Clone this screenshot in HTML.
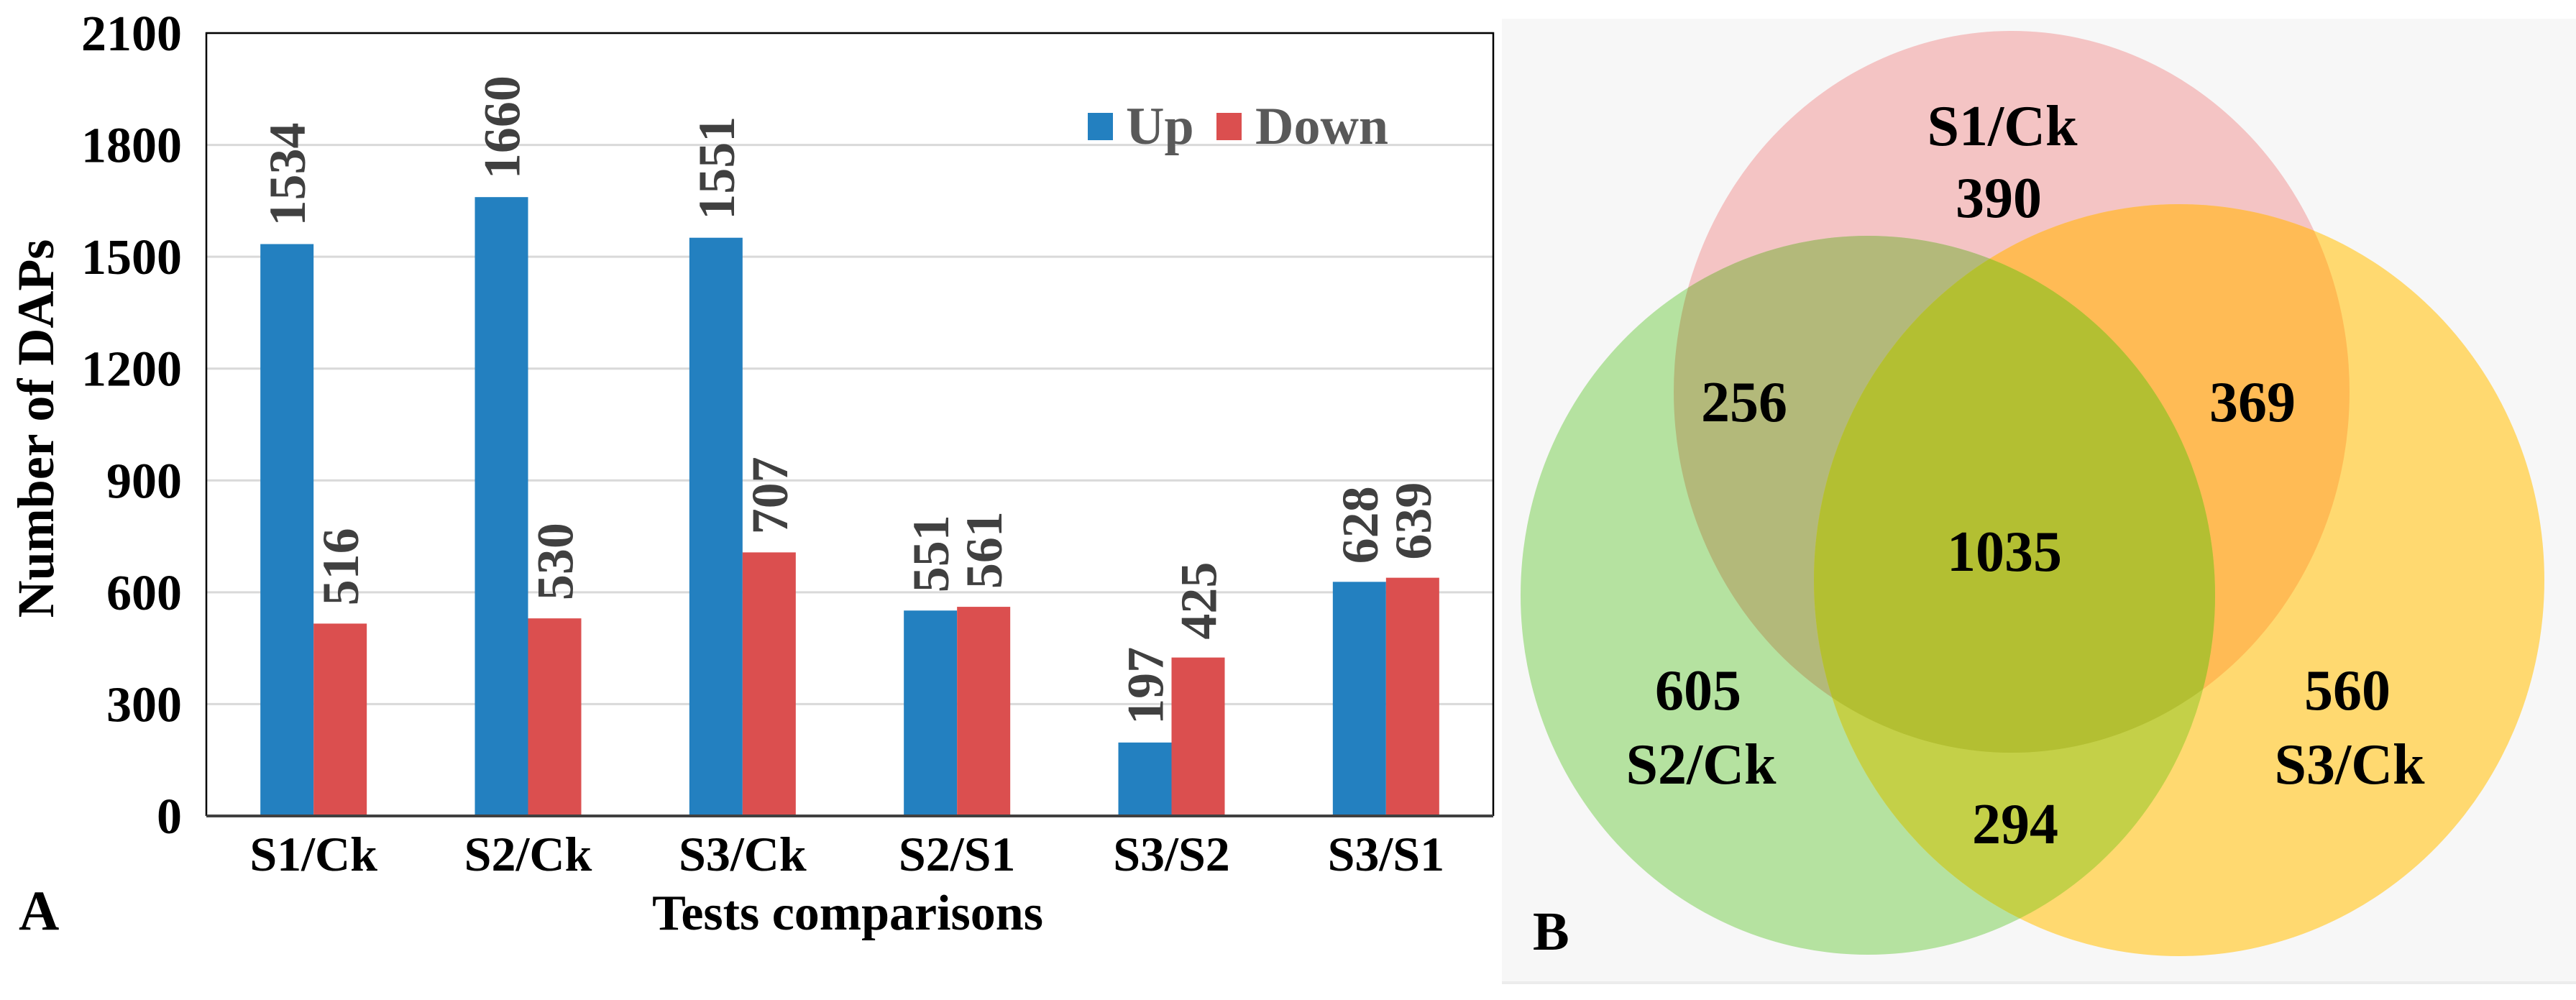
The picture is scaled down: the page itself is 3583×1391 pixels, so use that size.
<!DOCTYPE html>
<html><head><meta charset="utf-8"><style>
html,body{margin:0;padding:0;background:#fff}
svg{display:block}
text{font-family:"Liberation Serif",serif;font-weight:bold}
</style></head><body>
<svg id="chart" width="3583" height="1391" viewBox="0 0 3583 1391" xmlns="http://www.w3.org/2000/svg">
<g id="barPanel"></g>
<g id="vennPanel">
  <defs>
    <clipPath id="cPink"><ellipse cx="2798" cy="545" rx="470" ry="502"/></clipPath>
    <clipPath id="cGreen"><ellipse cx="2598" cy="828" rx="483" ry="500"/></clipPath>
    <clipPath id="cYellow"><ellipse cx="3031" cy="807" rx="508" ry="523"/></clipPath>
  </defs>
  <rect x="2089" y="26" width="1494" height="1339" fill="#f7f7f7"/>
  <rect x="2089" y="1365" width="1494" height="4" fill="#ececec"/>
  <ellipse cx="2798" cy="545" rx="470" ry="502" fill="#f4c4c4"/>
  <ellipse cx="2598" cy="828" rx="483" ry="500" fill="#b5e2a0"/>
  <ellipse cx="3031" cy="807" rx="508" ry="523" fill="#ffd970"/>
  <g clip-path="url(#cPink)"><ellipse cx="2598" cy="828" rx="483" ry="500" fill="#b3b97a"/></g>
  <g clip-path="url(#cPink)"><ellipse cx="3031" cy="807" rx="508" ry="523" fill="#ffbb55"/></g>
  <g clip-path="url(#cGreen)"><ellipse cx="3031" cy="807" rx="508" ry="523" fill="#c4d048"/></g>
  <g clip-path="url(#cPink)"><g clip-path="url(#cGreen)"><ellipse cx="3031" cy="807" rx="508" ry="523" fill="#b3bf32"/></g></g>
  <g font-size="80" text-anchor="middle" fill="#000">
    <text x="2785" y="202">S1/Ck</text>
    <text x="2780" y="302">390</text>
    <text x="2426" y="586">256</text>
    <text x="3133" y="586">369</text>
    <text x="2788" y="794">1035</text>
    <text x="2362" y="987">605</text>
    <text x="2366" y="1090">S2/Ck</text>
    <text x="3265" y="987">560</text>
    <text x="3268" y="1090">S3/Ck</text>
    <text x="2803" y="1173">294</text>
  </g>
  <text x="2132" y="1321" font-size="76">B</text>
</g>
</svg>
<script>
const categories = ["S1/Ck","S2/Ck","S3/Ck","S2/S1","S3/S2","S3/S1"];
const upValues = [1534,1660,1551,551,197,628];
const downValues = [516,530,707,561,425,639];
const yTicks = [0,300,600,900,1200,1500,1800,2100];

const NS = "http://www.w3.org/2000/svg";
const g = document.getElementById('barPanel');
const L = 287, R = 2077, T = 46, B = 1135, yMax = 2100;
const bw = (R - L) / categories.length;
const barW = 74;
function y(v){ return B - (v / yMax) * (B - T); }
function xc(i){ return L + bw * (i + 0.5); }
function mk(tag, attrs){ const e = document.createElementNS(NS, tag); for (const k in attrs) e.setAttribute(k, attrs[k]); g.appendChild(e); return e; }

yTicks.forEach((t, i) => {
  if (t > 0) {
    const ln = mk('line', {x1:L, x2:R, y1:y(t), y2:y(t), stroke:'#d9d9d9', 'stroke-width':3});
    
    
  }
  const tx = mk('text', {x:253, y:y(t)+24, 'font-size':70, 'text-anchor':'end', fill:'#000'});
  tx.textContent = t;
  
  
});

const frame = mk('path', {d:`M${L},${B} L${L},${T} L${R},${T} L${R},${B}`, fill:'none', stroke:'#000', 'stroke-width':2.5});



categories.forEach((c, i) => {
  const cx = xc(i);
  const ub = mk('rect', {x:cx-barW, y:y(upValues[i]), width:barW, height:B-y(upValues[i]), fill:'#2380c0'});
  
  
  const db = mk('rect', {x:cx, y:y(downValues[i]), width:barW, height:B-y(downValues[i]), fill:'#db4f4f'});
  
  
  [[upValues[i], cx-barW/2], [downValues[i], cx+barW/2]].forEach(([v, x]) => {
    const yy = y(v) - 25;
    const t = mk('text', {x:x+25, y:yy, 'font-size':72, fill:'#404040', transform:`rotate(-90 ${x+25} ${yy})`});
    t.textContent = v;
    
    
  });
  const xl = mk('text', {x:cx, y:1211, 'font-size':68, 'text-anchor':'middle', fill:'#000'});
  xl.textContent = c;
  
  
});

const axis = mk('line', {x1:L, x2:R, y1:B, y2:B, stroke:'#404040', 'stroke-width':4});



const xt = mk('text', {x:1179, y:1293, 'font-size':70, 'text-anchor':'middle', fill:'#000'});
xt.textContent = 'Tests comparisons';



const yt = mk('text', {x:74, y:596, 'font-size':72, 'text-anchor':'middle', fill:'#000', transform:'rotate(-90 74 596)'});
yt.textContent = 'Number of DAPs';



const pa = mk('text', {x:26, y:1293, 'font-size':78, fill:'#000'});
pa.textContent = 'A';



const lu = mk('rect', {x:1513, y:157, width:35, height:38, fill:'#2380c0'});


const lut = mk('text', {x:1566, y:200, 'font-size':74, fill:'#595959'});
lut.textContent = 'Up';


const ld = mk('rect', {x:1692, y:157, width:35, height:38, fill:'#db4f4f'});


const ldt = mk('text', {x:1746, y:200, 'font-size':74, fill:'#595959'});
ldt.textContent = 'Down';


</script>
</body></html>
